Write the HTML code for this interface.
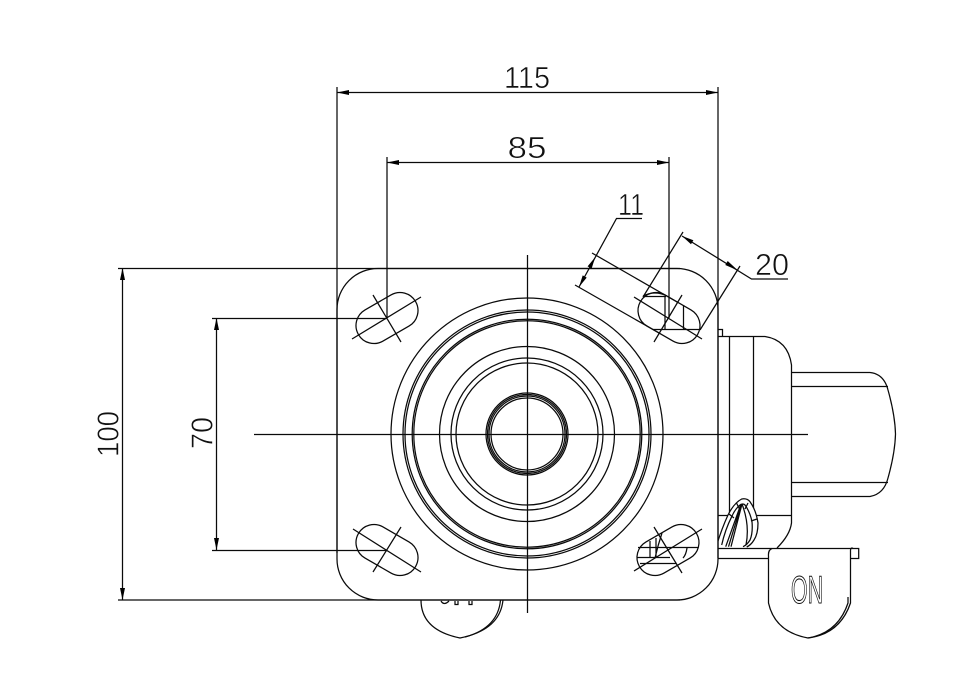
<!DOCTYPE html>
<html>
<head>
<meta charset="utf-8">
<style>
html,body{margin:0;padding:0;background:#fff;width:961px;height:698px;overflow:hidden}
svg{display:block}
.l{fill:none;stroke:#0a0a0a;stroke-width:1.25}
.t{fill:#111;stroke:#fff;stroke-width:.6;font-family:"Liberation Sans",sans-serif;font-size:30.5px;text-anchor:middle}
</style>
</head>
<body>
<svg width="961" height="698" viewBox="0 0 961 698" xmlns="http://www.w3.org/2000/svg">
<rect width="961" height="698" fill="#fff"/>
<g class="l">
<!-- wheel right -->
<path d="M791.5 372.5H870Q884 374 888 390Q895 415 895.5 434Q895 453 888 478Q884 494 870 496.5H791.5"/>
<path d="M791.5 386.5H888M791.5 482.5H888"/>
<!-- body -->
<path d="M718 336.5H765Q788 340 791.5 365V523Q790 535 777 548"/>
<path d="M729.5 336.5V515.5M753.5 336.5V515.5M718 515.5H791.5"/>
<path d="M718 329.5H722.5V336.5"/>
</g>
<!-- lever clasp -->
<path d="M717 545Q722 528 728 515Q734 503 741.7 499Q747 498 750 501.7Q756 510 758 523Q758 534 754 540Q751 545 746.7 547H717Z" fill="#fff" stroke="none"/>
<g class="l">
<path d="M716.7 545Q722 528 728 515Q734 503 741.7 499Q747 498 750 501.7Q756 510 758 523Q758 534 754 540Q751 545 746.7 547"/>
<path d="M721.7 545Q725 530 731.7 516.7Q735 509 740 505Q743 503 745 505Q750 512 752 521.7Q753 533 750 540Q747 545 743 546.7"/>
<path d="M741 504L725.7 546.7M741.5 504L728.5 546.7M742 504L731 546.7M742 504Q750 525 746 545"/>
<path d="M736.5 503L740 510M729 514L734 518M748 503L745 509M757 519L751 521"/>
<!-- lever plate -->
<path d="M718 548.5H858.7V558.5H850M718 558.5H768.5"/>
<!-- ON tab -->
<path d="M772 548.5Q768 550 768.5 556V603Q775 632 808 638Q840 634 850.5 603V550Q851 547 853 548.5"/>
<path d="M808 638Q838 633 848 603V597"/>
<!-- OFF tab -->
<path d="M421 600Q421 630 460 638Q500 630 503 600"/>
<path d="M465 637Q498 628 500.5 600"/>
<path d="M441 601Q444 606 449 601"/>
<path d="M455 601V604.5H458V601M469 601V604.5H472V601"/>
</g>
<text x="791" y="603" textLength="32" lengthAdjust="spacingAndGlyphs" style="font-family:'Liberation Sans',sans-serif;font-size:39px;fill:#fff;stroke:#111;stroke-width:1.1;text-anchor:start">ON</text>
<!-- plate -->
<rect x="337" y="268.5" width="381" height="331.5" rx="41" ry="41" fill="#fff" stroke="#0a0a0a" stroke-width="1.25"/>
<g class="l">
<!-- rings -->
<circle cx="527" cy="434" r="136"/>
<circle cx="527" cy="434" r="124"/>
<circle cx="527" cy="434" r="122"/>
<circle cx="527" cy="434" r="114.8"/>
<circle cx="527" cy="434" r="113.2"/>
<circle cx="527" cy="434" r="87.5"/>
<circle cx="527" cy="434" r="76"/>
<circle cx="527" cy="434" r="71"/>
<circle cx="527" cy="434" r="41"/>
<circle cx="527" cy="434" r="39.5"/>
<circle cx="527" cy="434" r="38"/>
<circle cx="527" cy="434" r="36"/>
<!-- slots -->
<rect x="354" y="300" width="66" height="36" rx="18" transform="rotate(-30 387 318)"/>
<rect x="636" y="300" width="66" height="36" rx="18" transform="rotate(30 669 318)"/>
<rect x="354" y="532" width="66" height="36" rx="18" transform="rotate(30 387 550)"/>
<rect x="635" y="532" width="66" height="36" rx="18" transform="rotate(-30 668 550)"/>
<!-- slot crosses -->
<path d="M352 339L421 297M373 295L401 342"/>
<path d="M634 297L702 339M654 342L682 295"/>
<path d="M353 529L421 572M373 572L401 527"/>
<path d="M634 571L702 529M654 527L682 573"/>
<!-- slot hidden detail -->
<path d="M643 296.5H666M665 296V330M683.5 305V330M653 329.5H699"/>
<path d="M643 296Q655 290 667 296"/>
<path d="M638 547.5H698M637 557.5H670M640 563.5H676M650 541V557M656 538V557M662 533Q658 545 655 558M687 548Q686 555 683 558"/>
<!-- centre lines -->
<path d="M254 434.5H808M527.5 255V613"/>
<!-- dim 115 -->
<path d="M337 87V553M718 87V558M337 92.5H718"/>
<!-- dim 85 -->
<path d="M387 157V318M669 157V318M387 162.5H669"/>
<!-- dim 100 -->
<path d="M118 268.5H680M118 600H680M122.5 268V600"/>
<!-- dim 70 -->
<path d="M212 318.5H387M212 550.5H387M216.5 318V550"/>
<!-- dim 11 -->
<path d="M642 218.5H616.5L579 287"/>
<path d="M575 285L660 333.5M592 253L678 302.5"/>
<!-- dim 20 -->
<path d="M682 236L751.5 279H788"/>
<path d="M683 232L643 297M740 266L700 330"/>
</g>
<!-- arrowheads -->
<g fill="#000">
<path d="M337 92.5L349 90V95Z"/>
<path d="M718 92.5L706 90V95Z"/>
<path d="M387 162.5L399 160V165Z"/>
<path d="M669 162.5L657 160V165Z"/>
<path d="M122.5 268L120 280H125Z"/>
<path d="M122.5 600L120 588H125Z"/>
<path d="M216.5 318L214 330H219Z"/>
<path d="M216.5 550L214 538H219Z"/>
<path d="M595.3 257L591.6 268.6L587.6 266.4Z"/>
<path d="M579 287L586.7 277.6L582.7 275.4Z"/>
<path d="M682 236L693.4 240.3L691 244.3Z"/>
<path d="M738 270.5L727.7 261L725.3 265Z" transform="translate(0 0)"/>
</g>
<!-- dimension text -->
<text class="t" x="527" y="88" textLength="46" lengthAdjust="spacingAndGlyphs">115</text>
<text class="t" x="527" y="158" textLength="39" lengthAdjust="spacingAndGlyphs">85</text>
<text class="t" x="631" y="215" textLength="26" lengthAdjust="spacingAndGlyphs">11</text>
<text class="t" x="772" y="275" textLength="34" lengthAdjust="spacingAndGlyphs">20</text>
<text class="t" transform="translate(118.5 434) rotate(-90)" textLength="46" lengthAdjust="spacingAndGlyphs">100</text>
<text class="t" transform="translate(212.5 433) rotate(-90)" textLength="32" lengthAdjust="spacingAndGlyphs">70</text>
</svg>
</body>
</html>
